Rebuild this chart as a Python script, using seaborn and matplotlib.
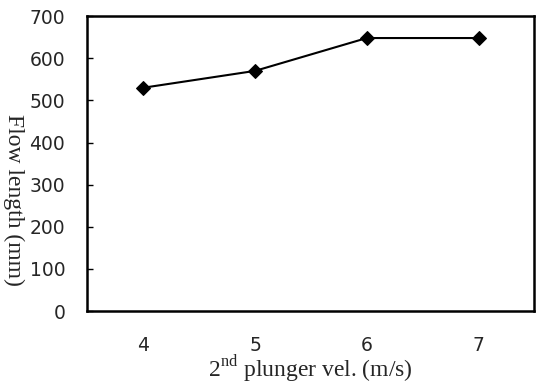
import matplotlib
matplotlib.use("Agg")
import matplotlib.pyplot as plt
import numpy as np
import pandas as pd
import seaborn as sns

# data
velocity = [4, 5, 6, 7]
flow_length = [530, 570, 648, 648]
y_ticks = [0, 100, 200, 300, 400, 500, 600, 700]

df = pd.DataFrame({"vel": velocity, "flow": flow_length})

sns.set_style("white")
plt.rcParams["font.family"] = ["DejaVu Sans"]
plt.rcParams["mathtext.fontset"] = "custom"
plt.rcParams["mathtext.rm"] = "Liberation Serif"

fig, ax = plt.subplots(figsize=(5.36, 3.84), dpi=100)
fig.subplots_adjust(left=0.163, right=0.997, top=0.958, bottom=0.19)

sns.lineplot(data=df, x="vel", y="flow", ax=ax, color="black", linewidth=1.5,
             marker="D", markersize=7, markeredgecolor="black")

ax.set_xlim(3.5, 7.5)
ax.set_ylim(0, 700)
ax.set_yticks(y_ticks)
ax.set_xticks(velocity)
ax.set_xticks([4.5, 5.5, 6.5], minor=True)
ax.tick_params(axis="x", which="major", length=0, pad=18, labelsize=13.5)
ax.tick_params(axis="x", which="minor", direction="in", length=4, width=1, color="black")
ax.tick_params(axis="y", direction="in", length=4, width=1, color="black", pad=16,
               labelsize=13.5, left=True)

for s in ax.spines.values():
    s.set_color("black")
    s.set_linewidth(1.8)

ax.set_xlabel(r"2$^{\rm nd}$ plunger vel. (m/s)", family="Liberation Serif",
              fontsize=17, labelpad=0)
ax.xaxis.set_label_coords(0.5, -0.145)
ax.set_ylabel("Flow length (mm)", family="Liberation Serif", fontsize=17,
              rotation=270, va="center", ha="center")
ax.yaxis.set_label_coords(-0.165, 0.376)

fig.savefig("out.png", dpi=100)
